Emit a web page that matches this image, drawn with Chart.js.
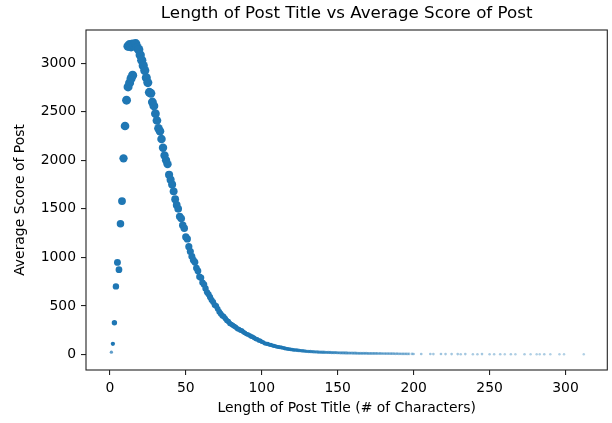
<!DOCTYPE html>
<html>
<head>
<meta charset="utf-8">
<script src="https://cdn.jsdelivr.net/npm/chart.js@4.4.0/dist/chart.umd.min.js"></script>
<style>
  html, body { margin: 0; padding: 0; background: #fff; }
</style>
</head>
<body>
<canvas id="chart" width="612" height="423"></canvas>
<script>
// title length (characters) vs average post score
const risingLengths = [1, 2, 3, 4, 5, 6, 7, 8, 9, 10, 11, 12, 13, 14, 15];
const risingScores = [24, 110, 327, 701, 948, 873, 1346, 1580, 2020, 2353, 2619, 2756, 2797, 2842, 2875];

const mainLengths = [
  12, 13, 14, 15, 16, 17, 18, 19, 20, 21, 22, 23, 24, 25, 26, 27, 28, 29, 30, 31,
  32, 33, 34, 35, 36, 37, 38, 39, 40, 41, 42, 43, 44, 45, 46, 47, 48, 49, 50, 51,
  52, 53, 54, 55, 56, 57, 58, 59, 60, 61, 62, 63, 64, 65, 66, 67, 68, 69, 70, 71,
  72, 73, 74, 75, 76, 77, 78, 79, 80, 81, 82, 83, 84, 85, 86, 87, 88, 89, 90, 91,
  92, 93, 94, 95, 96, 97, 98, 99, 100, 101, 102, 103, 104, 105, 106, 107, 108, 109, 110, 111,
  112, 113, 114, 115, 116, 117, 118, 119, 120, 121, 122, 123, 124, 125, 126, 127, 128, 129, 130, 131,
  132, 133, 134, 135, 136, 137, 138, 139, 140, 141, 142, 143, 144, 145, 146, 147, 148, 149, 150, 151,
  152, 153, 154, 155, 156, 157, 158, 159, 160, 161, 162, 163, 164, 165, 166, 167, 168, 169, 170, 171,
  172, 173, 174, 175, 176, 177, 178, 179, 180, 181, 182, 183, 184, 185, 186, 187, 188, 189, 190, 191,
  192, 193, 194, 195, 196, 197, 199, 200
];
const mainScores = [
  3175, 3190, 3170, 3195, 3185, 3200, 3160, 3140, 3085, 3030, 2975, 2925, 2850, 2800, 2700, 2690, 2600, 2560, 2480, 2410,
  2330, 2300, 2220, 2130, 2050, 2000, 1960, 1850, 1800, 1750, 1680, 1600, 1540, 1500, 1420, 1400, 1330, 1300, 1210, 1190,
  1110, 1060, 1010, 970, 950, 890, 860, 800, 790, 740, 720, 680, 640, 620, 590, 560, 540, 510, 500, 470,
  440, 420, 400, 390, 370, 350, 340, 320, 310, 300, 290, 280, 265, 260, 250, 245, 230, 220, 210, 205,
  195, 185, 180, 170, 160, 155, 145, 140, 130, 125, 115, 110, 108, 100, 98, 92, 88, 85, 80, 78,
  75, 72, 68, 64, 60, 58, 55, 53, 50, 48, 46, 45, 42, 41, 38, 37, 35, 34, 32, 31,
  30, 29, 28, 27, 26, 25, 24, 24, 23, 23, 22, 22, 21, 21, 20, 20, 19, 19, 18, 18,
  17, 17, 17, 16, 16, 15, 15, 15, 14, 14, 14, 13, 13, 13, 12, 12, 12, 12, 11, 11,
  11, 10, 11, 10, 10, 9, 10, 9, 9, 9, 8, 9, 8, 8, 8, 8, 7, 8, 7, 7,
  7, 6, 7, 6, 6, 6, 6, 5
];

const tailLengths = [205, 211, 213, 218, 221, 225, 229, 231, 234, 239, 242, 245, 250, 253, 257, 260, 264, 267, 273, 277, 281, 283, 286, 290, 296, 299, 312];
const tailScores = [5, 5, 4, 5, 4, 4, 4, 3, 4, 3, 3, 4, 3, 3, 3, 2, 3, 2, 3, 2, 2, 2, 3, 2, 2, 2, 2];

const xTicks = [0, 50, 100, 150, 200, 250, 300];
const yTicks = [0, 500, 1000, 1500, 2000, 2500, 3000];

const toPoints = (xs, ys) => xs.map((x, i) => ({ x: x, y: ys[i] }));
const points = toPoints(risingLengths, risingScores)
  .concat(toPoints(mainLengths, mainScores))
  .concat(toPoints(tailLengths, tailScores));

// marker size (and opacity for the tiny ones) grows with the score
const markerRadius = v => 0.9 + 3.8 * Math.pow(Math.max(v, 0) / 3200, 0.33);
const markerColor = v => {
  const a = Math.min(1, 0.2 + 0.8 * Math.sqrt(Math.max(v, 0) / 60));
  return 'rgba(31,119,180,' + a.toFixed(2) + ')';
};

Chart.defaults.font.family = 'DejaVu Sans';
Chart.defaults.color = '#000';

const frame = {
  id: 'frame',
  afterDraw(chart) {
    const { ctx, chartArea: a } = chart;
    ctx.save();
    ctx.strokeStyle = '#222';
    ctx.lineWidth = 1.1;
    ctx.strokeRect(a.left, a.top, a.right - a.left, a.bottom - a.top);
    ctx.font = '16.7px "DejaVu Sans"';
    ctx.fillStyle = '#000';
    ctx.textAlign = 'center';
    ctx.textBaseline = 'middle';
    ctx.fillText('Length of Post Title vs Average Score of Post', (a.left + a.right) / 2, 14);
    ctx.restore();
  }
};

new Chart(document.getElementById('chart'), {
  type: 'scatter',
  data: {
    datasets: [{
      label: 'Average Score',
      data: points,
      borderWidth: 0,
      backgroundColor: ctx => markerColor(ctx.raw ? ctx.raw.y : 0),
      pointRadius: ctx => markerRadius(ctx.raw ? ctx.raw.y : 0)
    }]
  },
  options: {
    responsive: false,
    animation: false,
    layout: { padding: { top: 30, right: 2, left: 0, bottom: 0 } },
    plugins: {
      legend: { display: false },
      tooltip: { enabled: false }
    },
    scales: {
      x: {
        type: 'linear',
        min: -15.7,
        max: 327.5,
        afterBuildTicks: s => { s.ticks = xTicks.map(v => ({ value: v })); },
        afterFit: s => { s.height = 53; },
        border: { display: false },
        grid: { drawOnChartArea: false, drawTicks: true, tickLength: 5, color: '#222', lineWidth: 1.1 },
        ticks: { padding: 5, font: { size: 13.9 }, maxRotation: 0, callback: v => String(v) },
        title: {
          display: true,
          text: 'Length of Post Title (# of Characters)',
          font: { size: 13.9 },
          padding: { top: 0, bottom: 6 }
        }
      },
      y: {
        type: 'linear',
        min: -160,
        max: 3342,
        afterBuildTicks: s => { s.ticks = yTicks.map(v => ({ value: v })); },
        afterFit: s => { s.width = 86; },
        border: { display: false },
        grid: { drawOnChartArea: false, drawTicks: true, tickLength: 5, color: '#222', lineWidth: 1.1 },
        ticks: { padding: 5, font: { size: 13.9 }, callback: v => String(v) },
        title: {
          display: true,
          text: 'Average Score of Post',
          font: { size: 13.9 },
          padding: { top: 12, bottom: 0 }
        }
      }
    }
  },
  plugins: [frame]
});
</script>
</body>
</html>
